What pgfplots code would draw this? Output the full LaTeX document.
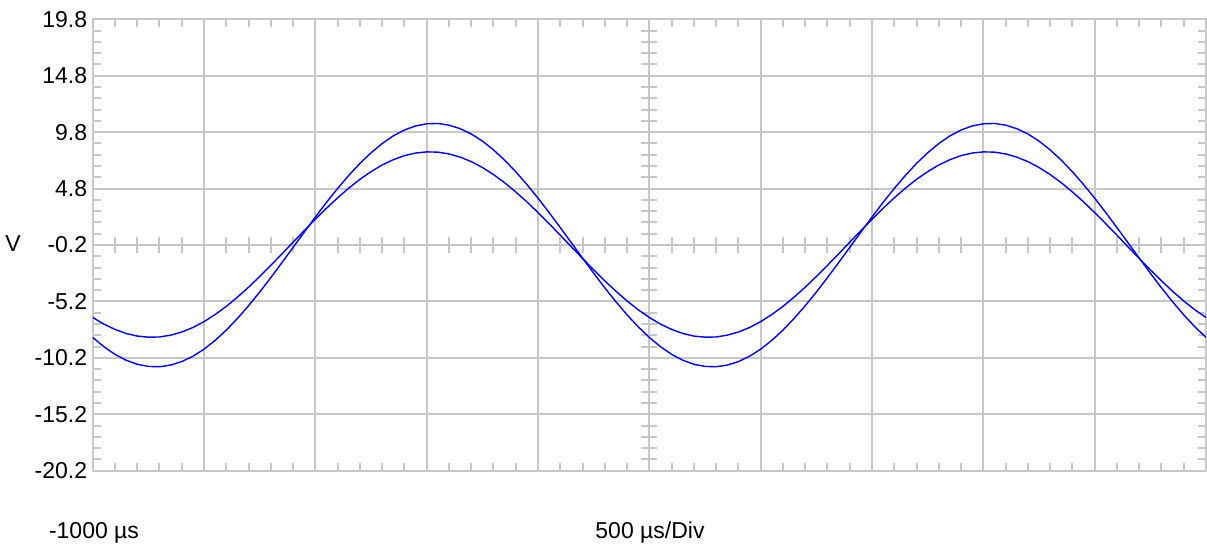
\documentclass[border=0pt]{standalone}
\usepackage{fontspec}
\setmainfont{Liberation Sans}
\usepackage{pgfplots}
\usepackage{pgfplotstable}
\pgfplotsset{compat=1.18}
\definecolor{gridc}{RGB}{200,200,200}
\definecolor{sig}{RGB}{0,0,255}

\pgfplotstableread{
t a b
-1000 -6.62 -8.39
-950 -7.21 -9.21
-900 -7.68 -9.89
-850 -8.04 -10.41
-800 -8.27 -10.77
-750 -8.37 -10.96
-700 -8.35 -10.99
-650 -8.19 -10.84
-600 -7.91 -10.53
-550 -7.51 -10.06
-500 -6.99 -9.43
-450 -6.36 -8.65
-400 -5.64 -7.74
-350 -4.82 -6.71
-300 -3.94 -5.58
-250 -2.99 -4.37
-200 -2.00 -3.09
-150 -0.99 -1.76
-100 0.05 -0.41
-50 1.07 0.94
0 2.08 2.28
50 3.06 3.58
100 3.98 4.81
150 4.84 5.97
200 5.62 7.03
250 6.30 7.97
300 6.89 8.79
350 7.36 9.47
400 7.72 9.99
450 7.95 10.35
500 8.05 10.54
550 8.03 10.57
600 7.87 10.42
650 7.59 10.11
700 7.19 9.64
750 6.67 9.01
800 6.04 8.23
850 5.32 7.32
900 4.50 6.29
950 3.62 5.16
1000 2.67 3.95
1050 1.68 2.67
1100 0.67 1.34
1150 -0.37 -0.01
1200 -1.39 -1.36
1250 -2.40 -2.70
1300 -3.38 -4.00
1350 -4.30 -5.23
1400 -5.16 -6.39
1450 -5.94 -7.45
1500 -6.62 -8.39
1550 -7.21 -9.21
1600 -7.68 -9.89
1650 -8.04 -10.41
1700 -8.27 -10.77
1750 -8.37 -10.96
1800 -8.35 -10.99
1850 -8.19 -10.84
1900 -7.91 -10.53
1950 -7.51 -10.06
2000 -6.99 -9.43
2050 -6.36 -8.65
2100 -5.64 -7.74
2150 -4.82 -6.71
2200 -3.94 -5.58
2250 -2.99 -4.37
2300 -2.00 -3.09
2350 -0.99 -1.76
2400 0.05 -0.41
2450 1.07 0.94
2500 2.08 2.28
2550 3.06 3.58
2600 3.98 4.81
2650 4.84 5.97
2700 5.62 7.03
2750 6.30 7.97
2800 6.89 8.79
2850 7.36 9.47
2900 7.72 9.99
2950 7.95 10.35
3000 8.05 10.54
3050 8.03 10.57
3100 7.87 10.42
3150 7.59 10.11
3200 7.19 9.64
3250 6.67 9.01
3300 6.04 8.23
3350 5.32 7.32
3400 4.50 6.29
3450 3.62 5.16
3500 2.67 3.95
3550 1.68 2.67
3600 0.67 1.34
3650 -0.37 -0.01
3700 -1.39 -1.36
3750 -2.40 -2.70
3800 -3.38 -4.00
3850 -4.30 -5.23
3900 -5.16 -6.39
3950 -5.94 -7.45
4000 -6.62 -8.39
}\sigdata

\begin{document}
\begin{tikzpicture}[x=1pt,y=1pt]
\path[use as bounding box] (-92.7,-73.3) rectangle (1114.3,470.7);
\begin{axis}[
  at={(0pt,0pt)}, anchor=south west,
  scale only axis, width=1113.3pt, height=451.4pt,
  xmin=-1000, xmax=4000, ymin=-20.2, ymax=19.8,
  xtick={-1000,-500,...,4000}, xticklabels={},
  ytick={-20.2,-15.2,-10.2,-5.2,-0.2,4.8,9.8,14.8,19.8},
  yticklabels={-20.2,-15.2,-10.2,-5.2,-0.2,4.8,9.8,14.8,19.8},
  minor x tick num=4, minor y tick num=4,
  grid=major,
  major grid style={gridc, line width=2pt},
  axis line style={gridc, line width=2pt},
  major tick length=0pt,
  minor tick length=8pt,
  minor tick style={gridc, line width=2pt},
  tick align=inside,
  every tick label/.append style={font=\fontsize{23}{27}\selectfont},
  yticklabel style={xshift=-2pt},
]
\pgfplotsinvokeforeach{-900,-800,-700,-600,-400,-300,-200,-100,100,200,300,400,600,700,800,900,1100,1200,1300,1400,1600,1700,1800,1900,2100,2200,2300,2400,2600,2700,2800,2900,3100,3200,3300,3400,3600,3700,3800,3900}{
  \draw[gridc, line width=2pt] ([yshift=-8pt]axis cs:#1,-0.2) -- ([yshift=8pt]axis cs:#1,-0.2);
}
\pgfplotsinvokeforeach{-19.2,-18.2,-17.2,-16.2,-14.2,-13.2,-12.2,-11.2,-9.2,-8.2,-7.2,-6.2,-4.2,-3.2,-2.2,-1.2,0.8,1.8,2.8,3.8,5.8,6.8,7.8,8.8,10.8,11.8,12.8,13.8,15.8,16.8,17.8,18.8}{
  \draw[gridc, line width=2pt] ([xshift=-8pt]axis cs:1500,#1) -- ([xshift=8pt]axis cs:1500,#1);
}
\addplot[sig, line width=1.4pt] table[x=t, y=a] {\sigdata};
\addplot[sig, line width=1.4pt] table[x=t, y=b] {\sigdata};
\end{axis}
\node[anchor=base, font=\fontsize{23}{27}\selectfont] at (1.3,-67.3) {-1000 µs};
\node[anchor=base, font=\fontsize{23}{27}\selectfont] at (557.3,-67.3) {500 µs/Div};
\node[anchor=base, font=\fontsize{23}{27}\selectfont] at (-79.7,218.7) {V};
\end{tikzpicture}
\end{document}
